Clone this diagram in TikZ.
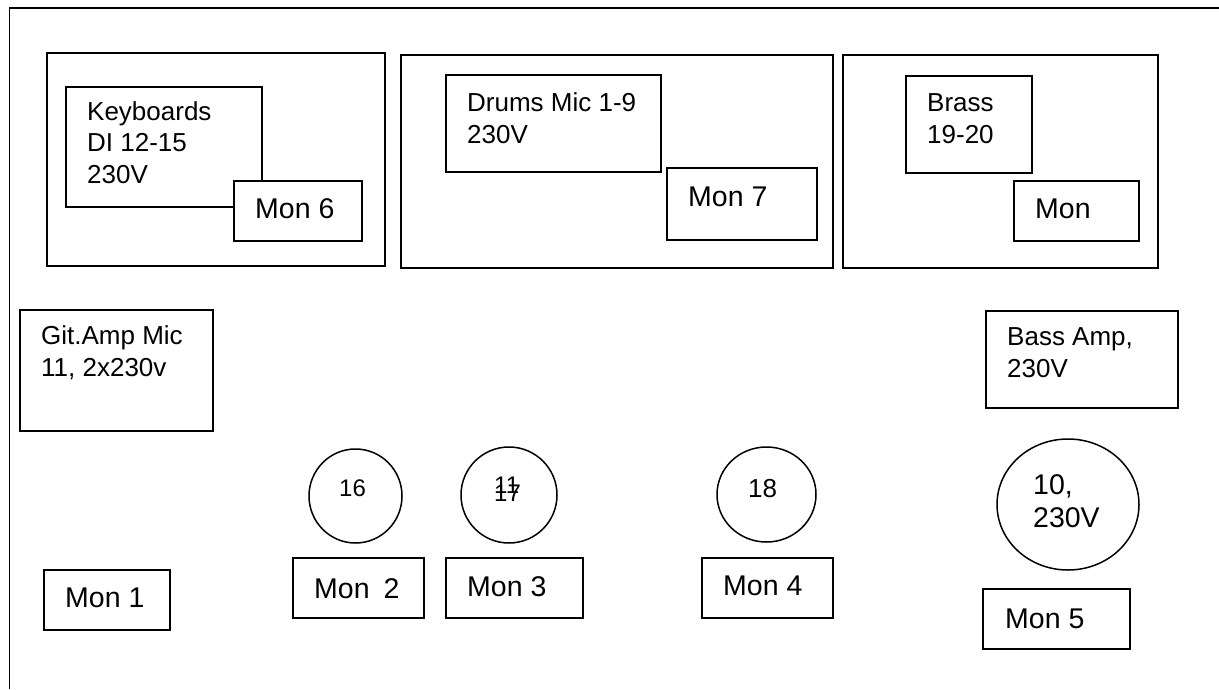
\documentclass[tikz,border=0pt]{standalone}
\usepackage{fontspec}
\setmainfont{Liberation Sans}
\usetikzlibrary{shapes.geometric}
\tikzset{
  bx/.style={draw=black,line width=1.8pt,fill=white,inner sep=0pt},
  circ/.style={draw=black,line width=1.5pt,fill=white,ellipse,inner sep=0pt},
  big/.style={anchor=base west,inner sep=0pt,font=\fontsize{28.5}{28.5}\selectfont},
  mid/.style={anchor=base west,inner sep=0pt,font=\fontsize{26}{31.5}\selectfont,align=left},
  lrg/.style={anchor=base west,inner sep=0pt,font=\fontsize{28.5}{32.5}\selectfont,align=left},
  sml/.style={anchor=base west,inner sep=0pt,font=\fontsize{24}{24}\selectfont},
  pic/.style={x=1pt,y=-1pt}
}
\newcommand{\bxnode}[5]{% name x1 y1 x2 y2
  \pgfmathsetmacro{\cxv}{(#2+#4)/2}\pgfmathsetmacro{\cyv}{(#3+#5)/2}
  \pgfmathsetmacro{\wv}{#4-#2}\pgfmathsetmacro{\hv}{#5-#3}
  \node[bx,minimum width=\wv pt,minimum height=\hv pt] (#1) at (\cxv,\cyv) {};
}
\newcommand{\elnode}[5]{% name x1 y1 x2 y2
  \pgfmathsetmacro{\cxv}{(#2+#4)/2}\pgfmathsetmacro{\cyv}{(#3+#5)/2}
  \pgfmathsetmacro{\wv}{#4-#2}\pgfmathsetmacro{\hv}{#5-#3}
  \node[circ,minimum width=\wv pt,minimum height=\hv pt] (#1) at (\cxv,\cyv) {};
}
\begin{document}
\begin{tikzpicture}[pic]
\useasboundingbox (0,0) rectangle (1219,689);
\fill[white] (0,0) rectangle (1219,689);
\draw[line width=1.8pt] (9.5,689) -- (9.5,8) -- (1219,8);
\bxnode{kbo}{47}{53}{385}{266}
\bxnode{kb}{66}{87}{262}{207}
\bxnode{m6}{234}{181}{362}{241}
\bxnode{dro}{401}{55}{833}{268}
\bxnode{dr}{446}{75}{661}{172}
\bxnode{m7}{667}{168}{817}{240}
\bxnode{bro}{843}{55}{1158}{268}
\bxnode{br}{906}{76}{1032}{173}
\bxnode{m0}{1014}{181}{1139}{241}
\bxnode{git}{20}{310}{213}{431}
\bxnode{bass}{986}{311}{1178}{408}
\elnode{c16}{309}{449}{402}{543}
\elnode{c17}{461}{447}{557}{543}
\elnode{c18}{717}{447}{816}{542}
\elnode{c10}{997}{439}{1139}{570}
\bxnode{m1}{44}{570}{170}{630}
\bxnode{m2}{293}{558}{424}{618}
\bxnode{m3}{446}{558}{583}{618}
\bxnode{m4}{702}{558}{833}{618}
\bxnode{m5}{983}{589}{1130}{649}
\node[mid] (tkb) at (87,183) {Keyboards\\DI 12-15\\230V};
\node[big] (t6) at (255,218) {Mon 6};
\node[mid] (tdr) at (467,143) {Drums Mic 1-9\\230V};
\node[big] (t7) at (688,206) {Mon 7};
\node[mid] (tbr) at (927,143) {Brass\\19-20};
\node[big] (t0) at (1035,218) {Mon};
\node[mid] (tgit) at (41,376) {Git.Amp Mic\\11, 2x230v};
\node[mid] (tbass) at (1007,377) {Bass Amp,\\230V};
\node[sml] (t16) at (339,496) {16};
\node[sml] (t11) at (494,493) {11};
\node[sml] (t17) at (494,501) {17};
\node[anchor=base west,inner sep=0pt,font=\fontsize{26}{26}\selectfont] (t18) at (748,497) {18};
\node[lrg] (t10) at (1033,527) {10,\\230V};
\node[big] (t1) at (65,607) {Mon 1};
\node[big] (t2) at (314,598) {Mon\hspace{6pt} 2};
\node[big] (t3) at (467,596) {Mon 3};
\node[big] (t4) at (723,595) {Mon 4};
\node[big] (t5) at (1005,628) {Mon 5};
\end{tikzpicture}
\end{document}
